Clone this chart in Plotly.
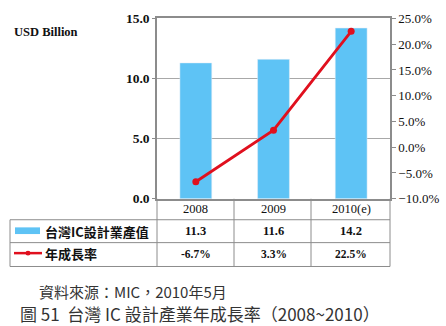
import plotly.graph_objects as go

categories = ["2008", "2009", "2010(e)"]
output_values = [11.3, 11.6, 14.2]          # USD Billion
growth_pct = [-6.7, 3.3, 22.5]              # %
left_ticks = [0, 5, 10, 15]
right_ticks = [-10, -5, 0, 5, 10, 15, 20, 25]
bar_name = "台灣IC設計業產值"
line_name = "年成長率"
unit_label = "USD Billion"
source_text = "資料來源：MIC，2010年5月"
caption_text = "圖 51  台灣 IC 設計產業年成長率（2008~2010）"

W, H = 446, 326
def px(x): return x / W
def py(y): return 1 - y / H

SERIF = "Times New Roman, Liberation Serif, Noto Sans CJK TC, serif"
CJK = "Noto Sans CJK TC, Liberation Serif, serif"
BAR_COLOR = "#5EC3F5"
LINE_COLOR = "#E0101E"
GRID = "#A8A8A8"

x0, x1, ytop, ybot = 157, 390, 12, 201

fig = go.Figure()
fig.add_trace(go.Bar(x=categories, y=output_values, marker_color=BAR_COLOR,
                     width=0.41, name=bar_name, yaxis="y"))
fig.add_trace(go.Scatter(x=categories, y=[g / 100 for g in growth_pct], mode="lines+markers",
                         line=dict(color=LINE_COLOR, width=2.8),
                         marker=dict(color=LINE_COLOR, size=7),
                         name=line_name, yaxis="y2"))

shapes = []
def hline(y, xa, xb):
    shapes.append(dict(type="line", xref="paper", yref="paper", x0=px(xa), x1=px(xb),
                       y0=py(y), y1=py(y), line=dict(color="#8C8C8C", width=1)))
def vline(x, ya, yb):
    shapes.append(dict(type="line", xref="paper", yref="paper", x0=px(x), x1=px(x),
                       y0=py(ya), y1=py(yb), line=dict(color="#8C8C8C", width=1)))

r1, r2, r3, r4 = 201, 223, 247, 272
hline(r2, 10, x1)
hline(r3, 10, x1)
hline(r4, 10, x1)
vline(10, r2, r4)
col_edges = [157, 234, 311, 390]
for cx in col_edges:
    vline(cx, r1, r4)

# legend keys in table
shapes.append(dict(type="rect", xref="paper", yref="paper", x0=px(15), x1=px(40),
                   y0=py(238), y1=py(231), fillcolor=BAR_COLOR, line=dict(width=0)))
shapes.append(dict(type="line", xref="paper", yref="paper", x0=px(14), x1=px(42),
                   y0=py(258), y1=py(258), line=dict(color=LINE_COLOR, width=2.5)))
shapes.append(dict(type="circle", xref="paper", yref="paper", x0=px(25.5), x1=px(30.5),
                   y0=py(260.5), y1=py(255.5), fillcolor=LINE_COLOR, line=dict(width=0)))

ann = []
def txt(x, y, s, size=12, font=SERIF, xanchor="center", xref="paper", color="#111", bold=True):
    ann.append(dict(x=x, y=py(y), xref=xref, yref="paper", text=(f"<b>{s}</b>" if bold else s),
                    showarrow=False, xanchor=xanchor, yanchor="middle",
                    font=dict(family=font, size=size, color=color)))

for i, c in enumerate(categories):
    txt(i, 212, c, size=12.5, xref="x", bold=False)
    txt(i, 235, f"{output_values[i]:.1f}", size=12.5, xref="x")
    txt(i, 259, f"{growth_pct[i]:.1f}%", size=11.5, xref="x")

txt(px(43), 235, bar_name, size=13, font=CJK, xanchor="left")
txt(px(43), 258, line_name, size=13, font=CJK, xanchor="left")
txt(px(12), 26, unit_label, size=12.5, xanchor="left")
txt(px(37), 298, source_text, size=15, font=CJK, xanchor="left", color="#333", bold=False)
txt(px(18), 321, caption_text, size=17, font=CJK, xanchor="left", color="#333", bold=False)

fig.update_layout(
    width=W, height=H, margin=dict(l=0, r=0, t=0, b=0),
    paper_bgcolor="white", plot_bgcolor="white", showlegend=False,
    xaxis=dict(type="category", range=[-0.5, 2.5], domain=[px(x0), px(x1)],
               showticklabels=False, showline=True, mirror=True,
               linecolor="#8C8C8C", linewidth=1.5, ticks="", showgrid=False),
    yaxis=dict(range=[0, 15], tickvals=left_ticks, tickformat=".1f", showgrid=True,
               gridcolor=GRID, gridwidth=1, showline=True, linecolor="#8C8C8C", linewidth=1.5,
               ticks="outside", ticklen=3, tickcolor="#8C8C8C", zeroline=False,
               domain=[py(ybot), py(ytop)],
               tickfont=dict(family=SERIF, size=13.5, color="#111", weight="bold")),
    yaxis2=dict(range=[-0.10, 0.25], tickvals=[t / 100 for t in right_ticks], tickformat=".1%",
                overlaying="y", side="right", showgrid=False, showline=True,
                linecolor="#8C8C8C", linewidth=1.5, ticks="outside", ticklen=4,
                tickcolor="#8C8C8C", zeroline=False,
                tickfont=dict(family=SERIF, size=13, color="#111")),
    shapes=shapes, annotations=ann,
)
fig.write_html("out.html")
